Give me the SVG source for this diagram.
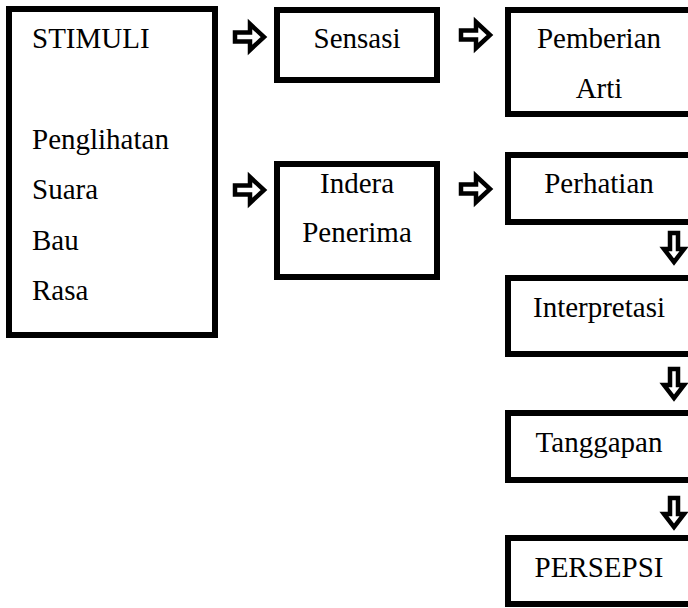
<svg xmlns="http://www.w3.org/2000/svg" width="688" height="608" viewBox="0 0 688 608">
  <style>
    .box { fill: #ffffff; stroke: #000000; stroke-width: 6; }
    .t { font-family: "Liberation Serif", "Times New Roman", serif; font-size: 29px; fill: #000000; }
    .c { text-anchor: middle; }
    .arr { fill: #ffffff; stroke: #000000; stroke-width: 4.5; stroke-linejoin: miter; }
  </style>
  <defs>
    <polygon id="harrow" points="2,-4.5 17,-4.5 17,-13 31,0 17,13 17,4.5 2,4.5"/>
    <polygon id="varrow" points="-4,2 4,2 4,18 10,18 0,31 -10,18 -4,18"/>
  </defs>
  <rect x="0" y="0" width="688" height="608" fill="#ffffff"/>

  <g id="stimuli">
    <rect class="box" x="9" y="9" width="206" height="326"/>
    <text class="t" x="32" y="48">STIMULI</text>
    <text class="t" x="32" y="149">Penglihatan</text>
    <text class="t" x="32" y="199">Suara</text>
    <text class="t" x="32" y="250">Bau</text>
    <text class="t" x="32" y="300">Rasa</text>
  </g>

  <g id="sensasi">
    <rect class="box" x="277" y="10" width="160" height="70"/>
    <text class="t c" x="357" y="48">Sensasi</text>
  </g>

  <g id="indera">
    <rect class="box" x="277" y="164" width="160" height="113"/>
    <text class="t c" x="357" y="193">Indera</text>
    <text class="t c" x="357" y="242">Penerima</text>
  </g>

  <g id="pemberian">
    <rect class="box" x="508" y="10" width="200" height="104"/>
    <text class="t c" x="599" y="48">Pemberian</text>
    <text class="t c" x="599" y="98">Arti</text>
  </g>

  <g id="perhatian">
    <rect class="box" x="508" y="155" width="200" height="67"/>
    <text class="t c" x="599" y="193">Perhatian</text>
  </g>

  <g id="interpretasi">
    <rect class="box" x="508" y="278" width="200" height="76"/>
    <text class="t c" x="599" y="317">Interpretasi</text>
  </g>

  <g id="tanggapan">
    <rect class="box" x="508" y="413" width="200" height="67"/>
    <text class="t c" x="599" y="452">Tanggapan</text>
  </g>

  <g id="persepsi">
    <rect class="box" x="508" y="538" width="200" height="66"/>
    <text class="t c" x="599" y="577">PERSEPSI</text>
  </g>

  <g id="connectors">
    <use href="#harrow" class="arr" transform="translate(233,37)"/>
    <use href="#harrow" class="arr" transform="translate(459,35)"/>
    <use href="#harrow" class="arr" transform="translate(233,190)"/>
    <use href="#harrow" class="arr" transform="translate(459,189)"/>
    <use href="#varrow" class="arr" transform="translate(674,231)"/>
    <use href="#varrow" class="arr" transform="translate(674,367)"/>
    <use href="#varrow" class="arr" transform="translate(674,496)"/>
  </g>
</svg>
